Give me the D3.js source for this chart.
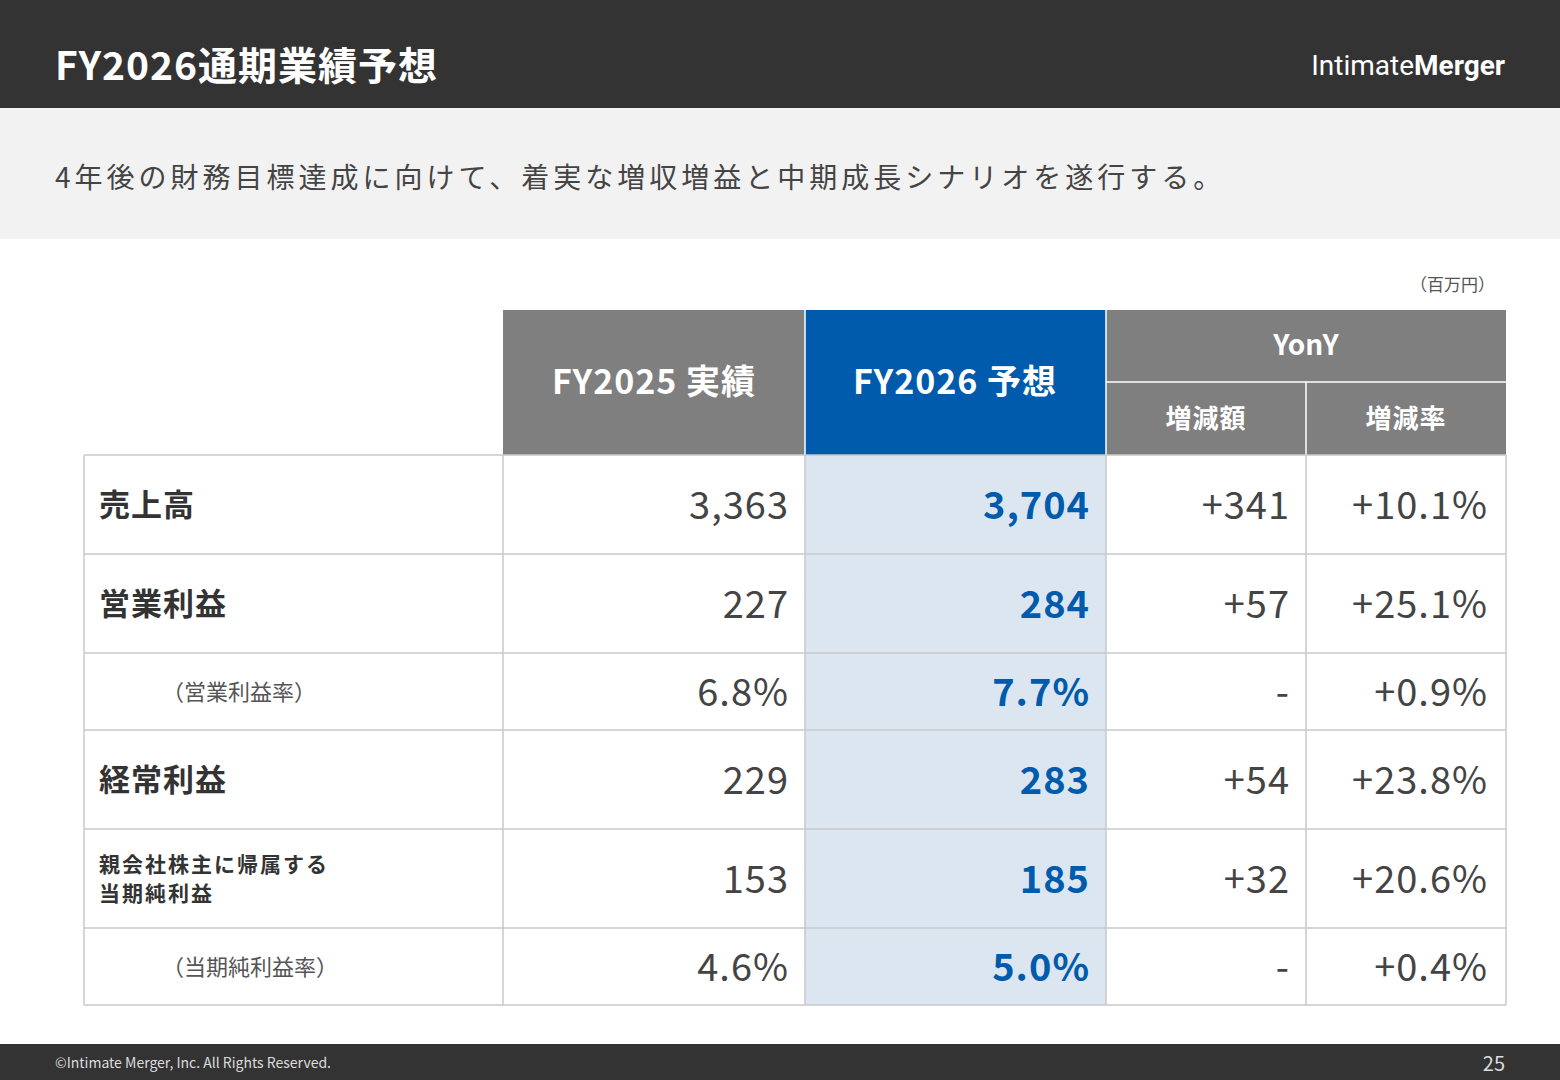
<!DOCTYPE html>
<html><head><meta charset="utf-8">
<script src="https://cdn.jsdelivr.net/npm/d3@7"></script>
<style>body{margin:0;background:#fff}svg{display:block;font-family:"Noto Sans CJK JP","Noto Sans",sans-serif}</style>
</head><body><svg id="c" width="1560" height="1080"></svg>
<script>
const rowLabels=["売上高","営業利益","（営業利益率）","経常利益","親会社株主に帰属する\n当期純利益","（当期純利益率）"];
const rowSub=[false,false,true,false,false,true];
const fy2025=["3,363","227","6.8%","229","153","4.6%"];
const fy2026=["3,704","284","7.7%","283","185","5.0%"];
const diffAmt=["+341","+57","-","+54","+32","-"];
const diffRate=["+10.1%","+25.1%","+0.9%","+23.8%","+20.6%","+0.4%"];
const rowUnits=[99,99,77,99,99,77];

const svg=d3.select("#c");
svg.append("rect").attr("width",1560).attr("height",108).attr("fill","#333");
svg.append("text").attr("x",55).attr("y",80).attr("fill","#fff").attr("font-size",39).attr("font-weight",700).attr("letter-spacing",1).text("FY2026通期業績予想");
const lg=svg.append("text").attr("x",1505).attr("y",75).attr("text-anchor","end").attr("fill","#fff").attr("font-size",28).attr("font-family","Roboto, sans-serif");
lg.append("tspan").text("Intimate");lg.append("tspan").attr("font-weight",700).text("Merger");
svg.append("rect").attr("y",108).attr("width",1560).attr("height",131).attr("fill","#f2f2f2");
svg.append("text").attr("x",55).attr("y",188).attr("fill","#444").attr("font-size",28).attr("letter-spacing",4).text("4年後の財務目標達成に向けて、着実な増収増益と中期成長シナリオを遂行する。");
svg.append("text").attr("x",1495).attr("y",291).attr("text-anchor","end").attr("fill","#555").attr("font-size",17).text("（百万円）");

const cols=[84,503,805,1106,1306,1506];
const cum=[0];rowUnits.forEach(u=>cum.push(cum[cum.length-1]+u));
const y=d3.scaleLinear().domain([0,cum[cum.length-1]]).range([455,1005]);

const hg=svg.append("g");
hg.append("rect").attr("x",503).attr("y",310).attr("width",302).attr("height",145).attr("fill","#7f7f7f");
hg.append("rect").attr("x",805).attr("y",310).attr("width",301).attr("height",145).attr("fill","#005bac");
hg.append("rect").attr("x",1106).attr("y",310).attr("width",400).attr("height",145).attr("fill","#7f7f7f");
hg.append("line").attr("x1",1106).attr("x2",1506).attr("y1",382).attr("y2",382).attr("stroke","#fff").attr("stroke-width",1.5);
hg.append("line").attr("x1",1306).attr("x2",1306).attr("y1",382).attr("y2",455).attr("stroke","#fff").attr("stroke-width",1.5);
hg.append("line").attr("x1",805).attr("x2",805).attr("y1",310).attr("y2",455).attr("stroke","#fff").attr("stroke-width",1.5);
hg.append("line").attr("x1",1106).attr("x2",1106).attr("y1",310).attr("y2",455).attr("stroke","#fff").attr("stroke-width",1.5);
const ht=(xx,yy,t,s,ls)=>hg.append("text").attr("x",xx).attr("y",yy).attr("text-anchor","middle").attr("fill","#fff").attr("font-size",s).attr("font-weight",700).attr("letter-spacing",ls).text(t);
ht(654,394,"FY2025 実績",34,1);ht(955,394,"FY2026 予想",34,1);ht(1306,355,"YonY",28,0);ht(1206,428,"増減額",26,1);ht(1406,428,"増減率",26,1);

svg.append("rect").attr("x",805).attr("y",455).attr("width",301).attr("height",550).attr("fill","#dce6f1");
const bg=svg.append("g");
rowLabels.forEach((lab,i)=>{
  const y0=y(cum[i]),y1=y(cum[i+1]),cy=(y0+y1)/2;
  bg.append("line").attr("x1",84).attr("x2",1506).attr("y1",y0).attr("y2",y0).attr("stroke","#c8c8c8").attr("stroke-width",1.5);
  const lines=lab.split("\n");
  if(rowSub[i]) bg.append("text").attr("x",162).attr("y",cy+8).attr("fill","#555").attr("font-size",22).text(lab);
  else if(lines.length>1) lines.forEach((l,k)=>bg.append("text").attr("x",99).attr("y",cy-7+k*29).attr("fill","#333").attr("font-size",21).attr("font-weight",700).attr("letter-spacing",2).text(l));
  else bg.append("text").attr("x",99).attr("y",cy+11).attr("fill","#333").attr("font-size",31).attr("font-weight",700).attr("letter-spacing",1).text(lab);
  const vt=(xx,t,c,w)=>bg.append("text").attr("x",xx).attr("y",cy+14).attr("text-anchor","end").attr("fill",c).attr("font-size",38).attr("font-weight",w).attr("letter-spacing",1).text(t);
  vt(789,fy2025[i],"#444",400);vt(1090,fy2026[i],"#005bac",700);vt(1290,diffAmt[i],"#444",400);vt(1488,diffRate[i],"#444",400);
});
bg.append("line").attr("x1",84).attr("x2",1506).attr("y1",1005).attr("y2",1005).attr("stroke","#c8c8c8").attr("stroke-width",1.5);
cols.forEach(c=>bg.append("line").attr("x1",c).attr("x2",c).attr("y1",455).attr("y2",1005).attr("stroke","#c8c8c8").attr("stroke-width",1.5));

svg.append("rect").attr("y",1044).attr("width",1560).attr("height",36).attr("fill","#333");
svg.append("text").attr("x",55).attr("y",1068).attr("fill","#ddd").attr("font-size",14).text("©Intimate Merger, Inc. All Rights Reserved.");
svg.append("text").attr("x",1505).attr("y",1071).attr("text-anchor","end").attr("fill","#ddd").attr("font-size",20).text("25");
</script></body></html>
